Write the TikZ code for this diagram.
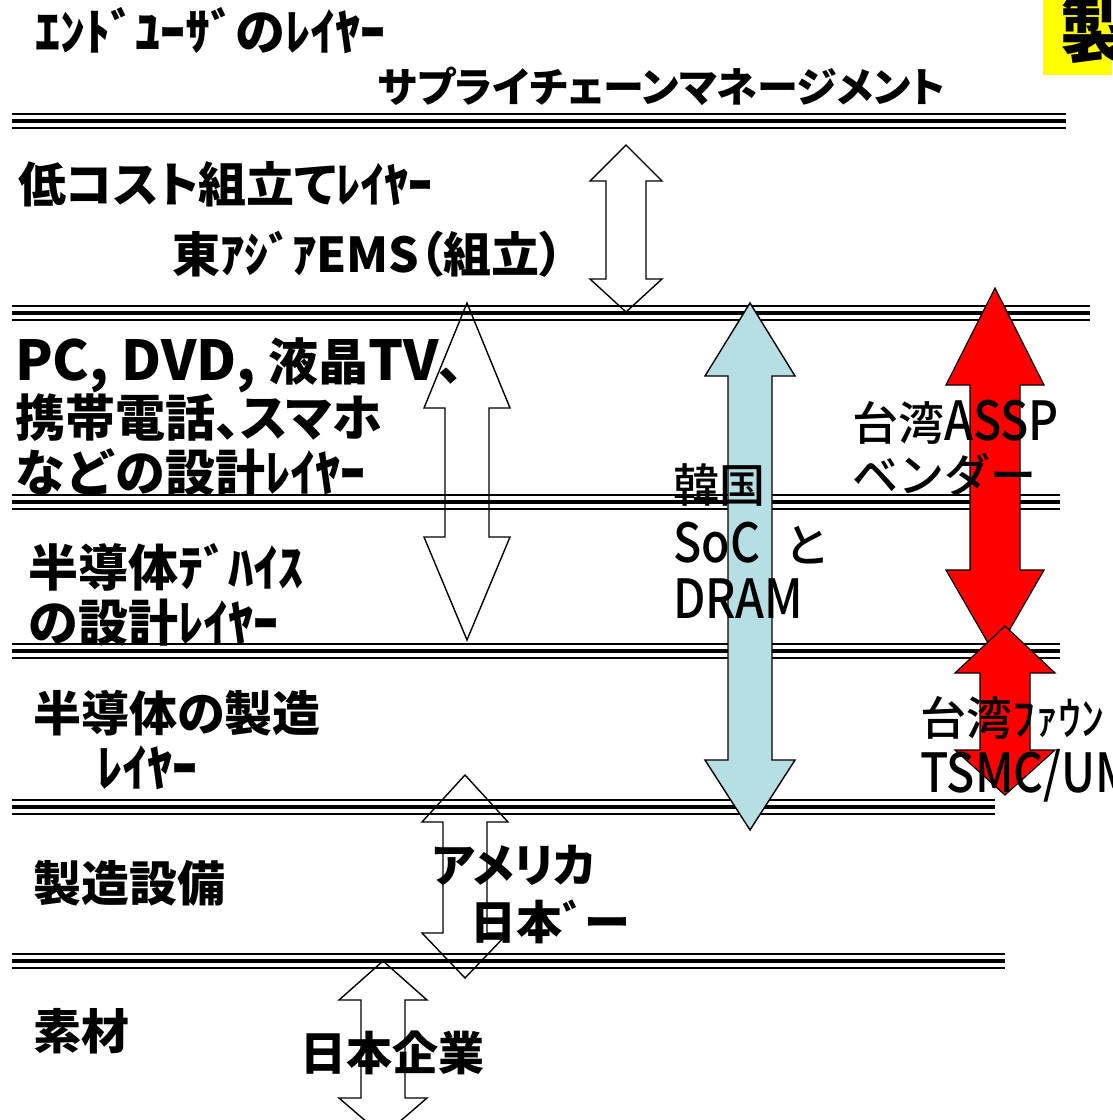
\documentclass[tikz,border=0pt]{standalone}
\usepackage{fontspec}
\setmainfont{Noto Sans CJK JP}
\newfontfamily\jpp{Noto Sans CJK JP}[RawFeature=+palt]
\IfFontExistsTF{Noto Sans CJK JP Medium}
  {\newfontfamily\jpn{Noto Sans CJK JP Medium}}
  {\newfontfamily\jpn{Noto Sans CJK JP}[FakeBold=3]}
\definecolor{lblue}{RGB}{183,222,226}
\definecolor{ared}{RGB}{255,0,0}
\definecolor{ylw}{RGB}{255,255,0}
% double block arrow: style, cx, ytip1, ybase1, ybase2, ytip2, head half width, shaft half width
\newcommand\darrow[8]{%
  \draw[#1] (#2,#3) -- ({#2+#7},#4) -- ({#2+#8},#4) -- ({#2+#8},#5) -- ({#2+#7},#5)
    -- (#2,#6) -- ({#2-#7},#5) -- ({#2-#8},#5) -- ({#2-#8},#4) -- ({#2-#7},#4) -- cycle;}
% triple separator line: y of thick line, right end
\newcommand\sepline[2]{%
  \draw[septhin] (12,{#1-7}) -- (#2,{#1-7});
  \draw[septhick] (12,#1) -- (#2,#1);
  \draw[septhin] (12,{#1+7}) -- (#2,{#1+7});}
\newcommand\cond[1]{\scalebox{0.86}[1]{\fontsize{54}{60}\selectfont #1}}
\newcommand\latbig[1]{{\fontsize{55}{60}\selectfont #1}}
\begin{document}
\begin{tikzpicture}[x=1pt,y=-1pt,
  septhin/.style={line width=1.7pt},
  septhick/.style={line width=4.2pt},
  whitearrow/.style={draw=black, line width=1.4pt, line join=miter},
  bluearrow/.style={draw=black, fill=lblue, line width=1.4pt},
  redarrow/.style={draw=black, fill=ared, line width=1.2pt},
  lbl/.style={anchor=base west, inner sep=0pt, font=\bfseries\fontsize{50}{55}\selectfont},
  lblp/.style={anchor=base west, inner sep=0pt, font=\jpp\bfseries\fontsize{48}{55}\selectfont},
  lbln/.style={anchor=base west, inner sep=0pt, font=\jpn\fontsize{46}{52}\selectfont}]
\useasboundingbox (0,0) rectangle (1112,1120);
\fill[white] (0,0) rectangle (1112,1120);

% separators
\sepline{121}{1066}
\sepline{313}{1090}
\sepline{502}{1060}
\sepline{651}{1060}
\sepline{807}{995}
\sepline{961}{1005}

% white outline arrows
\darrow{whitearrow}{626}{145}{181}{279}{312}{36}{20}
\darrow{whitearrow}{467}{303}{408}{537}{640}{43}{22}
\darrow{whitearrow}{465}{775}{822}{933}{978}{43}{22}
\darrow{whitearrow}{383}{961}{1000}{1098}{1136}{44}{22}

% filled arrows
\darrow{bluearrow}{750}{303}{376}{760}{830}{45}{22}
\darrow{redarrow}{995}{288}{385}{570}{655}{49}{25}
\darrow{redarrow}{1005}{626}{673}{750}{795}{50}{25}

% yellow title box
\fill[ylw] (1043,0) rectangle (1112,75);
\node[anchor=base west, inner sep=0pt, font=\bfseries\fontsize{72}{80}\selectfont] (title) at (1060,57) {製};

% layer labels
\node[lbl] (t1) at (35,50) {ｴﾝﾄﾞﾕｰｻﾞのﾚｲﾔｰ};
\node[lblp, font=\jpp\bfseries\fontsize{41}{48}\selectfont] (t2) at (378,102) {サプライチェーンマネージメント};
\node[lblp] (t3) at (18,202) {低コスト組立てﾚｲﾔｰ};
\node[lblp] (t4) at (172,272) {東ｱｼﾞｱEMS（組立）};
\node[lbl] (t5) at (15,380) {\latbig{PC, DVD, }液晶\latbig{TV}、};
\node[lblp, font=\jpp\bfseries\fontsize{50}{55}\selectfont] (t6) at (15,436) {携帯電話、スマホ};
\node[lbl] (t7) at (15,491) {などの設計ﾚｲﾔｰ};
\node[lbl] (t8) at (28,586) {半導体ﾃﾞﾊｲｽ};
\node[lbl] (t9) at (28,641) {の設計ﾚｲﾔｰ};
\node[lblp] (t10) at (33,731) {半導体の製造};
\node[lbl] (t11) at (97,786) {ﾚｲﾔｰ};
\node[lblp] (t12) at (33,901) {製造設備};
\node[lblp] (t13) at (33,1049) {素材};
\node[lblp, font=\jpp\bfseries\fontsize{46}{52}\selectfont] (t14) at (300,1070) {日本企業};
\node[lblp, font=\jpp\bfseries\fontsize{46}{52}\selectfont] (t15) at (432,882) {アメリカ};
\node[lblp, font=\jpp\bfseries\fontsize{46}{52}\selectfont] (t16) at (470,939) {日本ﾞー};

% Korea / Taiwan labels
\node[lbln] (k1) at (673,502) {韓国};
\node[lbln] (k2) at (673,562) {\cond{SoC}\hspace{24pt}と};
\node[lbln] (k3) at (673,618) {\cond{DRAM}};
\node[lbln] (w1) at (852,440) {台湾\cond{ASSP}};
\node[lbln] (w2) at (852,492) {ベンダー};
\node[lbln] (w3) at (920,735) {台湾ﾌｧｳﾝ};
\node[lbln] (w4) at (920,792) {\cond{TSMC/UM}};
\end{tikzpicture}
\end{document}
